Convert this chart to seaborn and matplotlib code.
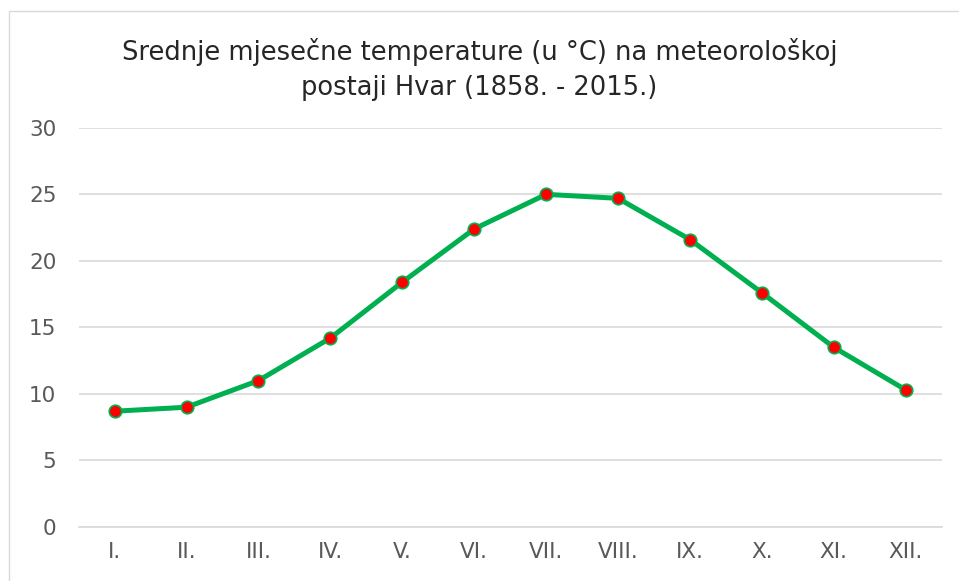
import matplotlib.pyplot as plt
import matplotlib.patches as patches
import pandas as pd
import seaborn as sns

# Monthly mean temperatures, Hvar 1858-2015
months = ['I.', 'II.', 'III.', 'IV.', 'V.', 'VI.', 'VII.', 'VIII.', 'IX.', 'X.', 'XI.', 'XII.']
temps = [8.7, 9.0, 11.0, 14.2, 18.4, 22.4, 25.0, 24.7, 21.6, 17.6, 13.5, 10.3]

df = pd.DataFrame({'month': months, 'temp': temps})

sns.set_theme(style='white')
plt.rcParams['font.family'] = ['DejaVu Sans']

fig = plt.figure(figsize=(9.59, 5.81), dpi=100)
ax = fig.add_axes([0.082, 0.093, 0.900, 0.687])

sns.lineplot(data=df, x='month', y='temp', sort=False, ax=ax,
             color='#00B050', linewidth=3.6, marker='o', markersize=9,
             markerfacecolor='#FF0000', markeredgecolor='#00B050',
             markeredgewidth=1.2)

ax.set_xlim(-0.5, len(months) - 0.5)
ax.set_ylim(0, 30)
ax.set_yticks(range(0, 31, 5))
ax.yaxis.grid(True, color='#D9D9D9', linewidth=1.2)
ax.set_axisbelow(True)
for s in ['top', 'right', 'left']:
    ax.spines[s].set_visible(False)
ax.spines['bottom'].set_color('#D9D9D9')
ax.spines['bottom'].set_linewidth(1.2)

ax.tick_params(axis='both', colors='#595959', labelsize=15.5, length=0)
ax.tick_params(axis='x', pad=11)
ax.tick_params(axis='y', pad=16)
ax.set_xlabel('')
ax.set_ylabel('')

fig.text(0.5, 1 - 52 / 581, 'Srednje mjesečne temperature (u °C) na meteorološkoj',
         ha='center', va='center', fontsize=18.5, color='#262626')
fig.text(0.5, 1 - 88 / 581, 'postaji Hvar (1858. - 2015.)',
         ha='center', va='center', fontsize=18.5, color='#262626')

# thin chart-area frame (only left and top visible)
fig.patches.append(patches.Rectangle((9 / 959, -0.05), 1.2, 1 - 11 / 581 + 0.05,
                                     transform=fig.transFigure, fill=False,
                                     edgecolor='#D9D9D9', linewidth=1))

fig.savefig('out.png', dpi=100)
